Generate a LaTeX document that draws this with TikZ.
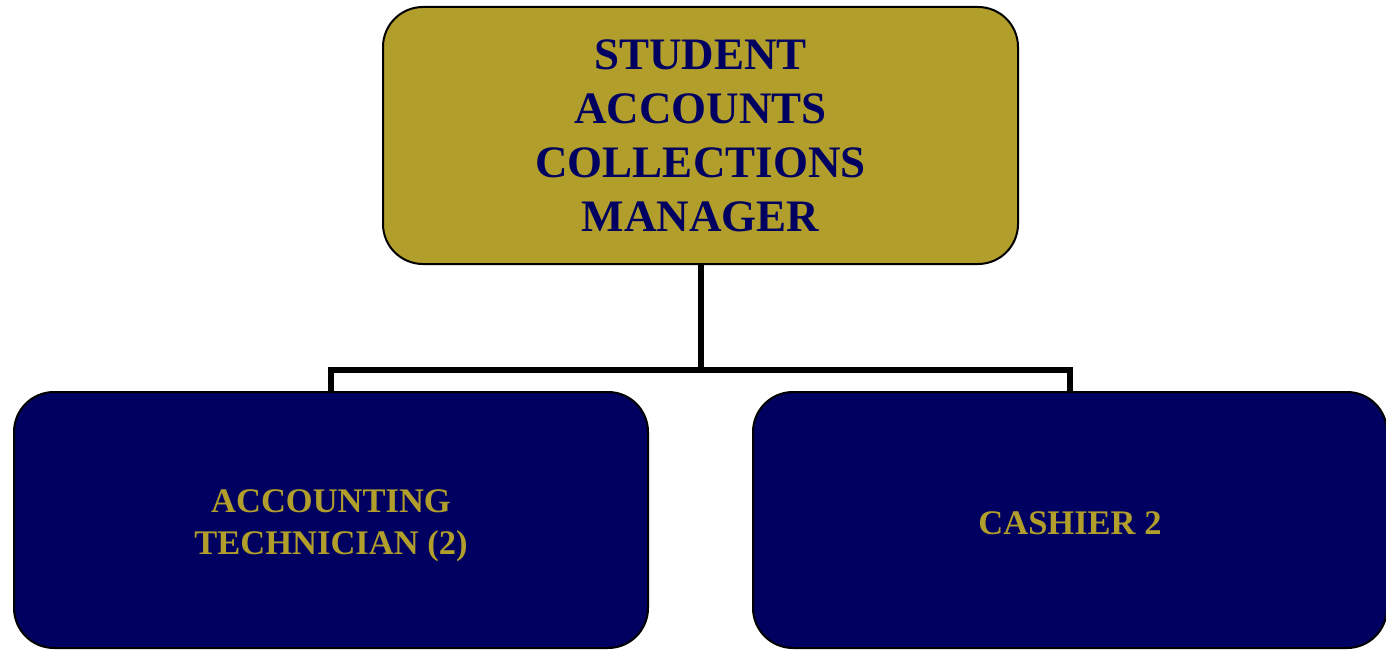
\documentclass[tikz,border=0pt]{standalone}
\usepackage{fontspec}
\setmainfont{Liberation Serif}
\definecolor{gold}{HTML}{B29E2B}
\definecolor{navy}{HTML}{000060}
\begin{document}
\begin{tikzpicture}[x=1pt,y=-1pt,
  box/.style={draw=black,line width=2pt,rounded corners=40pt,inner sep=0pt,align=center},
  topbox/.style={box,fill=gold,text=navy,minimum width=635pt,minimum height=257pt,font=\fontsize{45}{54}\selectfont\bfseries},
  lowbox/.style={box,fill=navy,minimum width=634pt,minimum height=256pt},
  lowtext/.style={text=gold,align=center,inner sep=0pt,font=\fontsize{34.5}{42}\selectfont\bfseries},
  conn/.style={draw=black,line width=6pt}]
\useasboundingbox (0,0) rectangle (1386,650);
\node[topbox] (top) at (700.5,135.5) {STUDENT\\ACCOUNTS\\COLLECTIONS\\MANAGER};
\node[lowbox,label={[lowtext,yshift=-6pt]center:{ACCOUNTING\\TECHNICIAN (2)}}] (tech) at (331,520) {};
\node[lowbox,label={[lowtext,yshift=-3pt]center:{CASHIER 2}}] (cash) at (1070,520) {};
\coordinate (j) at (700.5,370);
\draw[conn] (top.south) -- (j);
\draw[conn] (tech.north) |- (j) -| (cash.north);
\end{tikzpicture}
\end{document}
